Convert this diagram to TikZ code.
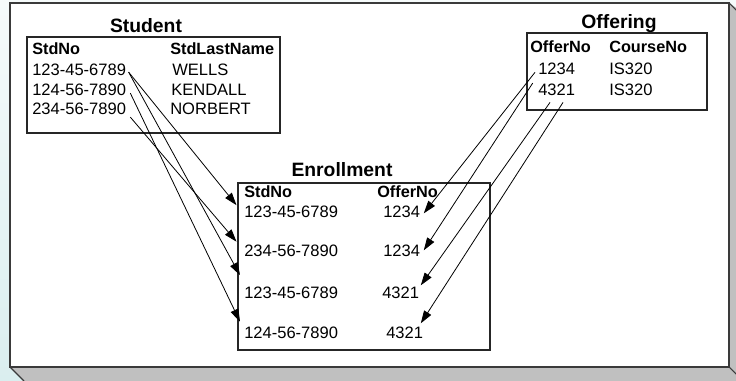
\documentclass[tikz,border=0pt]{standalone}
\usepackage{fontspec}
\setmainfont{Liberation Sans}
\usetikzlibrary{arrows.meta,calc}
\definecolor{shadowgray}{HTML}{C0C0C0}
\definecolor{edgegray}{HTML}{3A3A3A}
\definecolor{bgtop}{HTML}{F6FBFB}
\definecolor{bgbot}{HTML}{DAEEEF}
\begin{document}
\begin{tikzpicture}[x=0.75pt,y=-0.75pt,
  title/.style={font=\fontsize{14.5}{17}\selectfont\bfseries, inner sep=0pt, anchor=base},
  hdr/.style={font=\fontsize{12.2}{14}\selectfont\bfseries, inner sep=0pt, anchor=base west},
  cell/.style={font=\fontsize{12.4}{14}\selectfont, inner sep=0pt, anchor=base west},
  tbl/.style={draw=black!85, line width=0.8pt},
  arr/.style={-{Triangle[length=9.5pt,width=6.2pt]}, line width=0.6pt}]
\useasboundingbox (0,0) rectangle (736,381);
% background
\shade[top color=bgtop, bottom color=bgbot] (0,0) rectangle (736,381);
% slab shadow
\fill[shadowgray] (10,367) -- (24,381) -- (750,381) -- (750,17) -- (729,3) -- (729,367) -- cycle;
\draw[edgegray, line width=0.8pt] (10,367) -- (24,381);
\draw[edgegray, line width=0.8pt] (729,3) -- (743,17);
\draw[edgegray, line width=0.8pt] (729,367) -- (743,381);
% main panel
\draw[fill=white, draw=edgegray, line width=1.4pt] (10,3) rectangle (729,367);

% Student table
\node[title] (stitle) at (146,33) {Student};
\draw[tbl] (27,37) rectangle (280,133);
\node[hdr] (sh1) at (32,55) {StdNo};
\node[hdr] (sh2) at (170,55) {StdLastName};
\node[cell] (s1) at (32,76) {123-45-6789};
\node[cell] (s2) at (32,95.5) {124-56-7890};
\node[cell] (s3) at (32,115) {234-56-7890};
\node[cell] (n1) at (172,76) {WELLS};
\node[cell] (n2) at (171,95.5) {KENDALL};
\node[cell] (n3) at (170,115) {NORBERT};

% Offering table
\node[title] (otitle) at (619,29) {Offering};
\draw[tbl] (527,33) rectangle (707,110);
\node[hdr] (oh1) at (530,53) {OfferNo};
\node[hdr] (oh2) at (609,53) {CourseNo};
\node[cell] (o1) at (538,75) {1234};
\node[cell] (o2) at (538,96) {4321};
\node[cell] (c1) at (609,75) {IS320};
\node[cell] (c2) at (609,96) {IS320};

% Enrollment table
\node[title] (etitle) at (342,177) {Enrollment};
\draw[tbl] (238,183) rectangle (490,350);
\node[hdr] (eh1) at (244,198) {StdNo};
\node[hdr] (eh2) at (377,198) {OfferNo};
\node[cell] (e1) at (244,218) {123-45-6789};
\node[cell] (e2) at (244,257) {234-56-7890};
\node[cell] (e3) at (244,298) {123-45-6789};
\node[cell] (e4) at (244,338) {124-56-7890};
\node[cell] (f1) at (383,218) {1234};
\node[cell] (f2) at (383,257) {1234};
\node[cell] (f3) at (382,298) {4321};
\node[cell] (f4) at (386,338) {4321};

% arrows Student -> Enrollment
\draw[arr] ([shift={(2.3,1.8)}]s1.east) -- ([shift={(-7.5,-1)}]e1.north west);
\draw[arr] ([shift={(2.3,1.8)}]s1.east) -- ([shift={(-4,-11)}]e3.north west);
\draw[arr] ([shift={(4,3.3)}]s2.east) -- ([shift={(-4,-4.5)}]e4.north west);
\draw[arr] ([shift={(4,7.8)}]s3.east) -- ([shift={(-7.5,-3.5)}]e2.north west);
% arrows Offering -> Enrollment
\draw[arr] ([shift={(-3,3)}]o1.west) -- ([shift={(3.5,1)}]f1.east);
\draw[arr] ([shift={(-5.3,13.8)}]o1.west) -- ([shift={(3.5,-1)}]f2.east);
\draw[arr] ([shift={(12,6)}]o2.south west) -- ([shift={(1.5,-7)}]f3.east);
\draw[arr] ([shift={(25,6)}]o2.south west) -- ([shift={(-2.5,-9)}]f4.east);
\end{tikzpicture}
\end{document}
